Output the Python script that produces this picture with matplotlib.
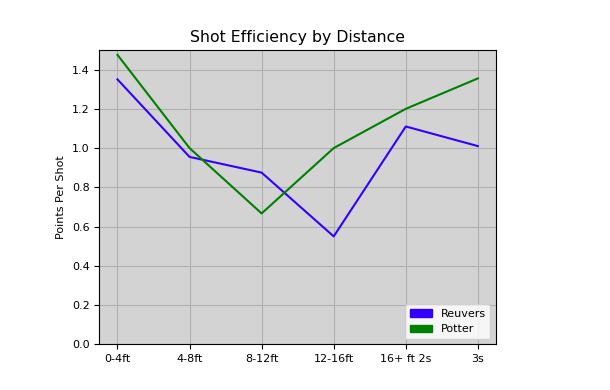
import matplotlib
matplotlib.use('Agg')
import matplotlib.pyplot as plt
import matplotlib.patches as mpatches

# Zones de tir et points par tir
zones = ['0-4ft', '4-8ft', '8-12ft', '12-16ft', '16+ ft 2s', '3s']
reuvers = [1.35, 0.955, 0.875, 0.55, 1.11, 1.01]
potter = [1.475, 1.0, 0.667, 1.0, 1.2, 1.355]

fig = plt.figure(figsize=(6.1, 3.9), dpi=100)
ax = fig.add_axes([0.163, 0.117, 0.65, 0.755])
ax.set_facecolor('lightgray')

ax.plot(zones, reuvers, color='#3300ff', linewidth=1.5)
ax.plot(zones, potter, color='green', linewidth=1.5)

ax.set_ylim(0, 1.5)
ax.grid(True, color='#b0b0b0')
ax.set_axisbelow(True)
ax.set_ylabel('Points Per Shot', fontsize=8)
ax.set_title('Shot Efficiency by Distance', fontsize=11.3)
ax.tick_params(labelsize=8)

handles = [mpatches.Patch(color='#3300ff', label='Reuvers'),
           mpatches.Patch(color='green', label='Potter')]
ax.legend(handles=handles, loc='lower right', fontsize=8)

fig.savefig('out.png')
